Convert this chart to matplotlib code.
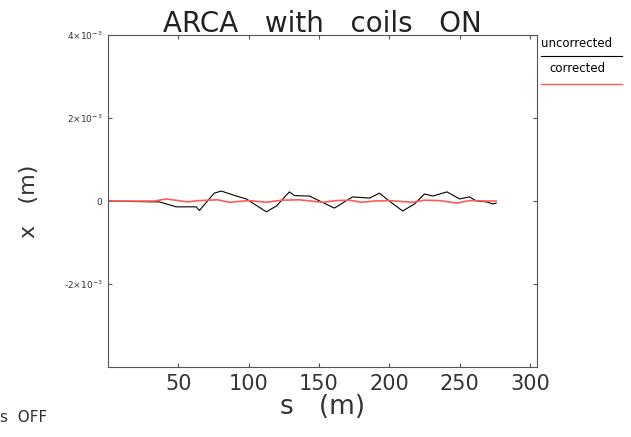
import matplotlib
matplotlib.use("Agg")
import matplotlib.pyplot as plt

# s positions (m) and orbit x (m)
s_unc = [0, 31.5, 36.5, 48.5, 62.8, 65, 75.6, 80.6, 91.3, 98.4, 112.6, 119.8, 129,
         132.6, 143.3, 151.8, 161, 173.9, 186, 193, 200, 209.5, 218, 225, 231, 241,
         250, 257, 262, 269, 273.6, 276]
x_unc = [0, -0.02, -0.02, -0.14, -0.14, -0.23, 0.19, 0.24, 0.12, 0.05, -0.26, -0.12,
         0.22, 0.13, 0.12, -0.02, -0.17, 0.10, 0.07, 0.19, 0.0, -0.24, -0.07, 0.17,
         0.12, 0.22, 0.05, 0.10, 0.0, -0.02, -0.07, -0.05]
x_unc = [v * 1e-3 for v in x_unc]

s_cor = [0, 33, 41.5, 56.4, 65, 77.8, 86.3, 100.5, 112.6, 124, 136, 152.5, 162.5,
         171.7, 180.3, 189.5, 200, 216.6, 225, 235.8, 247.9, 257, 267.8, 276]
x_cor = [0, 0, 0.05, -0.02, 0.01, 0.03, -0.03, 0.01, -0.03, 0.02, 0.03, -0.03, 0.01,
         0.02, -0.03, 0.0, 0.01, -0.03, 0.02, 0.01, -0.05, 0.01, 0.0, 0.0]
x_cor = [v * 1e-3 for v in x_cor]

xticks = [50, 100, 150, 200, 250, 300]
yticks = [-2e-3, 0, 2e-3, 4e-3]
ylabels = ['-2×10$^{-3}$', '0', '2×10$^{-3}$', '4×10$^{-3}$']

fig = plt.figure(figsize=(6.31, 4.37), dpi=100)
ax = fig.add_axes([0.171, 0.160, 0.680, 0.760])

ax.plot(s_unc, x_unc, color='black', lw=0.8)
ax.plot(s_cor, x_cor, color='#ff5a5a', lw=1.2)

ax.set_xlim(0, 305)
ax.set_ylim(-4e-3, 4e-3)
ax.set_xticks(xticks)
ax.set_xticklabels([str(t) for t in xticks], fontsize=15, color='#333333')
ax.set_yticks(yticks)
ax.set_yticklabels(ylabels, fontsize=6.5, color='#333333')
ax.tick_params(direction='in', length=3, width=0.8, color='#555555',
               top=True, right=True, pad=4)
ax.tick_params(axis='x', pad=5)
for sp in ax.spines.values():
    sp.set_color('#555555')
    sp.set_linewidth(0.8)

ax.set_title('ARCA   with   coils   ON', fontsize=20, color='#222222', pad=2)
ax.set_xlabel('s   (m)', fontsize=19, color='#333333', labelpad=0)
ax.set_ylabel('x   (m)', fontsize=16, color='#333333', labelpad=18)

fig.text(0.0, 0.035, 's  OFF', fontsize=11, color='#333333')

# legend drawn at the right, outside the axes
fig.text(0.857, 0.893, 'uncorrected', fontsize=8.5, color='black')
fig.add_artist(plt.Line2D([0.857, 0.986], [0.872, 0.872], color='black', lw=0.8))
fig.text(0.870, 0.835, 'corrected', fontsize=8.5, color='black')
fig.add_artist(plt.Line2D([0.857, 0.986], [0.808, 0.808], color='#ff5a5a', lw=1.0))

fig.savefig('out.png', dpi=100)
